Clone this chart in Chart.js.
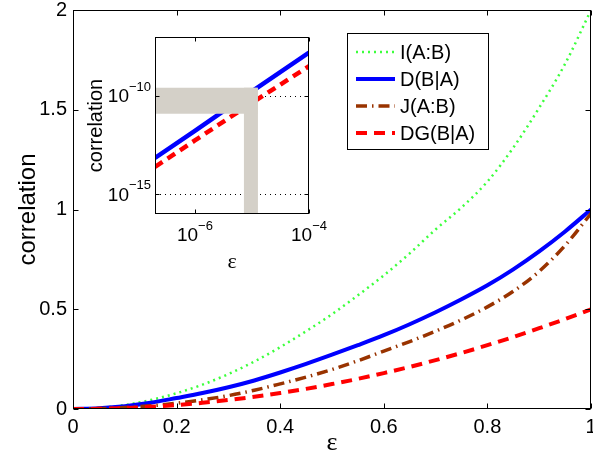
<!DOCTYPE html>
<html>
<head>
<meta charset="utf-8">
<script src="https://cdn.jsdelivr.net/npm/chart.js@4.4.1/dist/chart.umd.min.js"></script>
<style>
  body { margin: 0; background: #fff; }
  #wrap { position: relative; width: 593px; height: 461px; }
  #main { position: absolute; left: 0; top: 0; }
  #inset { position: absolute; left: 75px; top: 25px; }
</style>
</head>
<body>
<div id="wrap">
  <canvas id="main" width="593" height="461"></canvas>
  <canvas id="inset" width="265" height="255"></canvas>
</div>
<script>
// main panel: correlations vs epsilon
const eps = [0, 0.05, 0.1, 0.15, 0.2, 0.25, 0.3, 0.35, 0.4, 0.45, 0.5,
             0.55, 0.6, 0.65, 0.7, 0.75, 0.8, 0.85, 0.9, 0.95, 1];
const mutualInfo = [0, 0.005, 0.02, 0.045, 0.079, 0.122, 0.175, 0.238, 0.31, 0.39, 0.475,
                    0.57, 0.67, 0.78, 0.9, 1.01, 1.14, 1.31, 1.51, 1.73, 2.0];
const discord = [0, 0.004, 0.014, 0.031, 0.055, 0.08, 0.109, 0.143, 0.183, 0.226, 0.272,
                 0.32, 0.37, 0.425, 0.485, 0.55, 0.62, 0.7, 0.79, 0.89, 1.0];
const classical = [0, 0.002, 0.007, 0.016, 0.029, 0.046, 0.067, 0.094, 0.126, 0.16, 0.198,
                   0.242, 0.29, 0.338, 0.39, 0.447, 0.512, 0.59, 0.69, 0.82, 0.98];
const geomDiscord = [0, 0.001, 0.005, 0.011, 0.02, 0.031, 0.045, 0.061, 0.08, 0.101, 0.125,
                     0.151, 0.18, 0.211, 0.245, 0.281, 0.32, 0.361, 0.405, 0.451, 0.5];
const seriesNames = ['I(A:B)', 'D(B|A)', 'J(A:B)', 'DG(B|A)'];
const xTicks = [0, 0.2, 0.4, 0.6, 0.8, 1];
const yTicks = [0, 0.5, 1, 1.5, 2];

// inset: small-epsilon behaviour on log axes
const insetEps = [2e-7, 1e-6, 1e-5, 1e-4];
const insetDiscord = [7.1e-14, 1.7e-12, 1.7e-10, 1.6e-8];
const insetGeom = [2.5e-14, 5.5e-13, 4.5e-11, 3.3e-9];
const insetXTicks = [1e-6, 1e-4];
const insetYTicks = [1e-15, 1e-10];
// grey L-shaped patch over the inset
const patchH = { x: [2e-7, 1.25e-5], y: [5.75e-11, 5.75e-11] };
const patchV = { x: [9.6e-6, 9.6e-6], y: [2.6e-10, 1e-16] };

const FONT = '"Liberation Sans", Arial, Helvetica, sans-serif';
const SERIF = '"Liberation Serif", "Times New Roman", serif';

const pts = (xs, ys) => xs.map((x, i) => ({ x: x, y: ys[i] }));
const noPad = s => { s.paddingLeft = s.paddingRight = s.paddingTop = s.paddingBottom = 0; };

// box around the plot area with inward tick marks on all four sides
const boxTicks = {
  id: 'boxTicks',
  afterDraw(chart, args, opts) {
    const { ctx, chartArea: a, scales: { x, y } } = chart;
    const len = opts.len || 5;
    const L = Math.round(a.left) + 0.5, R = Math.round(a.right) - 0.5;
    const T = Math.round(a.top) + 0.5, B = Math.round(a.bottom) - 0.5;
    ctx.save();
    ctx.strokeStyle = '#000';
    ctx.lineWidth = 1;
    ctx.setLineDash([]);
    ctx.beginPath();
    x.ticks.forEach(t => {
      const px = Math.round(x.getPixelForValue(t.value)) + 0.5;
      ctx.moveTo(px, B); ctx.lineTo(px, B - len);
      ctx.moveTo(px, T); ctx.lineTo(px, T + len);
    });
    y.ticks.forEach(t => {
      const py = Math.round(y.getPixelForValue(t.value)) + 0.5;
      ctx.moveTo(L, py); ctx.lineTo(L + len, py);
      ctx.moveTo(R, py); ctx.lineTo(R - len, py);
    });
    ctx.stroke();
    ctx.strokeRect(L, T, R - L, B - T);
    ctx.restore();
  }
};

// boxed legend in the upper right of the main axes
const boxLegend = {
  id: 'boxLegend',
  afterDraw(chart) {
    const { ctx, chartArea: a } = chart;
    const left = a.right - 244, top = a.top + 23, w = 141, h = 116;
    ctx.save();
    ctx.fillStyle = '#fff';
    ctx.fillRect(left, top, w, h);
    ctx.strokeStyle = '#000';
    ctx.lineWidth = 1;
    ctx.strokeRect(left + 0.5, top + 0.5, w, h);
    ctx.font = '20px ' + FONT;
    ctx.textBaseline = 'middle';
    ctx.textAlign = 'left';
    chart.data.datasets.forEach((ds, i) => {
      const cy = top + 19 + i * 27;
      ctx.setLineDash(ds.borderDash || []);
      ctx.strokeStyle = ds.borderColor;
      ctx.lineWidth = ds.borderWidth;
      ctx.beginPath();
      ctx.moveTo(left + 9, cy);
      ctx.lineTo(left + 48, cy);
      ctx.stroke();
      ctx.setLineDash([]);
      ctx.fillStyle = '#000';
      ctx.fillText(ds.label, left + 53, cy + 1);
    });
    ctx.restore();
  }
};

new Chart(document.getElementById('main'), {
  type: 'line',
  data: {
    datasets: [
      { label: seriesNames[0], data: pts(eps, mutualInfo), borderColor: '#3cff3c',
        borderWidth: 2.5, borderDash: [2, 4], order: 4 },
      { label: seriesNames[1], data: pts(eps, discord), borderColor: '#0000ff',
        borderWidth: 4, borderDash: [], order: 3 },
      { label: seriesNames[2], data: pts(eps, classical), borderColor: '#993300',
        borderWidth: 3.5, borderDash: [11, 5, 1.5, 5], order: 2 },
      { label: seriesNames[3], data: pts(eps, geomDiscord), borderColor: '#ff0000',
        borderWidth: 4, borderDash: [11, 7], order: 1 }
    ]
  },
  options: {
    responsive: false,
    animation: false,
    events: [],
    layout: { autoPadding: false, padding: { top: 10, right: 2, left: 0, bottom: 0 } },
    elements: {
      point: { radius: 0 },
      line: { cubicInterpolationMode: 'monotone', borderCapStyle: 'butt', fill: false }
    },
    plugins: { legend: { display: false }, tooltip: { enabled: false }, boxTicks: { len: 5 } },
    scales: {
      x: {
        type: 'linear', min: 0, max: 1,
        afterBuildTicks: s => { s.ticks = xTicks.map(v => ({ value: v })); },
        afterFit: s => { s.height = 52; noPad(s); },
        grid: { display: false, drawTicks: false },
        border: { display: false },
        ticks: { color: '#000', padding: 6, font: { family: FONT, size: 20 },
                 maxRotation: 0, callback: v => String(+v.toFixed(1)) },
        title: { display: true, text: 'ε', color: '#000',
                 font: { family: SERIF, size: 26 }, padding: { top: 0, bottom: 2 } }
      },
      y: {
        type: 'linear', min: 0, max: 2,
        afterBuildTicks: s => { s.ticks = yTicks.map(v => ({ value: v })); },
        afterFit: s => { s.width = 73; noPad(s); },
        grid: { display: false, drawTicks: false },
        border: { display: false },
        ticks: { color: '#000', padding: 6, font: { family: FONT, size: 20 },
                 callback: v => String(v) },
        title: { display: true, text: 'correlation', color: '#000',
                 font: { family: FONT, size: 24 }, padding: { top: 14, bottom: 0 } }
      }
    }
  },
  plugins: [boxTicks, boxLegend]
});

// white axes background, dotted y grid and 10^n labels for the inset
const insetDecor = {
  id: 'insetDecor',
  beforeDatasetsDraw(chart) {
    const { ctx, chartArea: a, scales: { y } } = chart;
    ctx.save();
    ctx.fillStyle = '#fff';
    ctx.fillRect(a.left, a.top, a.right - a.left, a.bottom - a.top);
    ctx.strokeStyle = '#000';
    ctx.lineWidth = 1;
    ctx.setLineDash([1, 4]);
    ctx.beginPath();
    insetYTicks.forEach(v => {
      const py = Math.round(y.getPixelForValue(v)) + 0.5;
      ctx.moveTo(a.left, py); ctx.lineTo(a.right, py);
    });
    ctx.stroke();
    ctx.restore();
  },
  afterDraw(chart) {
    const { ctx, chartArea: a, scales: { x, y } } = chart;
    const pow = (v, px, py, align) => {
      const base = '10', sup = '\u2212' + Math.round(-Math.log10(v));
      ctx.font = '19px ' + FONT;
      const wb = ctx.measureText(base).width;
      ctx.font = '13px ' + FONT;
      const ws = ctx.measureText(sup).width;
      const x0 = align === 'right' ? px - wb - ws : px - (wb + ws) / 2;
      ctx.font = '19px ' + FONT;
      ctx.fillText(base, x0, py);
      ctx.font = '13px ' + FONT;
      ctx.fillText(sup, x0 + wb, py - 10);
    };
    ctx.save();
    ctx.fillStyle = '#000';
    ctx.textAlign = 'left';
    ctx.textBaseline = 'middle';
    insetXTicks.forEach(v => pow(v, x.getPixelForValue(v), a.bottom + 22, 'center'));
    insetYTicks.forEach(v => pow(v, a.left - 4, y.getPixelForValue(v) + 1, 'right'));
    ctx.restore();
  }
};

new Chart(document.getElementById('inset'), {
  type: 'line',
  data: {
    datasets: [
      { label: 'patch', data: pts(patchH.x, patchH.y), borderColor: '#d4d0c8',
        borderWidth: 26, order: 0, clip: 0 },
      { label: 'patch', data: pts(patchV.x, patchV.y), borderColor: '#d4d0c8',
        borderWidth: 14, order: 0, clip: 0 },
      { label: seriesNames[1], data: pts(insetEps, insetDiscord), borderColor: '#0000ff',
        borderWidth: 4.5, order: 2, clip: 0 },
      { label: seriesNames[3], data: pts(insetEps, insetGeom), borderColor: '#ff0000',
        borderWidth: 4.5, borderDash: [9, 6], order: 1, clip: 0 }
    ]
  },
  options: {
    responsive: false,
    animation: false,
    events: [],
    layout: { autoPadding: false, padding: { top: 12, right: 31, left: 0, bottom: 0 } },
    elements: { point: { radius: 0 }, line: { borderCapStyle: 'butt', fill: false } },
    plugins: { legend: { display: false }, tooltip: { enabled: false }, boxTicks: { len: 4 } },
    scales: {
      x: {
        type: 'logarithmic', min: 2e-7, max: 1e-4,
        afterBuildTicks: s => { s.ticks = insetXTicks.map(v => ({ value: v })); },
        afterFit: s => { s.height = 66; noPad(s); },
        grid: { display: false, drawTicks: false },
        border: { display: false },
        ticks: { display: false },
        title: { display: true, text: 'ε', color: '#000',
                 font: { family: SERIF, size: 22 }, padding: { top: 0, bottom: 5 } }
      },
      y: {
        type: 'logarithmic', min: 1e-16, max: 1e-7,
        afterBuildTicks: s => { s.ticks = insetYTicks.map(v => ({ value: v })); },
        afterFit: s => { s.width = 80; noPad(s); },
        grid: { display: false, drawTicks: false },
        border: { display: false },
        ticks: { display: false },
        title: { display: true, text: 'correlation', color: '#000',
                 font: { family: FONT, size: 20 }, padding: { top: 9, bottom: 0 } }
      }
    }
  },
  plugins: [insetDecor, boxTicks]
});
</script>
</body>
</html>
